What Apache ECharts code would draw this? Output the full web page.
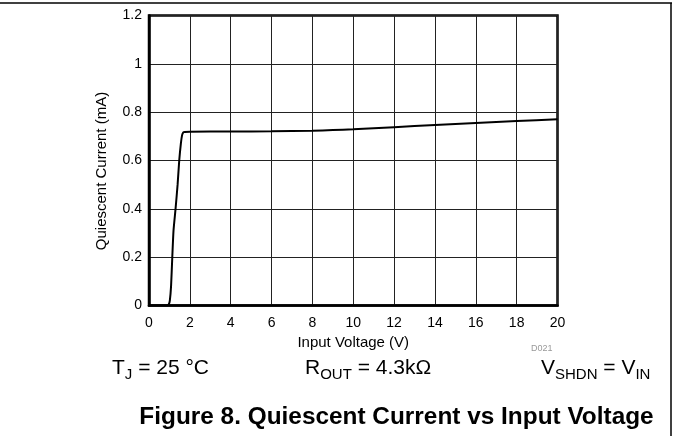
<!DOCTYPE html>
<html>
<head>
<meta charset="utf-8">
<script src="https://cdn.jsdelivr.net/npm/echarts@6/dist/echarts.min.js"></script>
<style>html,body{margin:0;padding:0;background:#fff;}#c{width:673px;height:436px;}</style>
</head>
<body>
<div id="c"></div>
<script>
// Data
const voltage = [0, 0.5, 0.9, 0.97, 1.02, 1.08, 1.14, 1.2, 1.3, 1.4, 1.48, 1.56, 1.62, 1.68, 1.75, 2, 4, 6, 8, 9, 10, 12, 14, 16, 18, 20];
const current = [0, 0, 0, 0.005, 0.02, 0.08, 0.2, 0.31, 0.4, 0.5, 0.6, 0.67, 0.705, 0.716, 0.718, 0.719, 0.72, 0.721, 0.723, 0.726, 0.729, 0.738, 0.747, 0.755, 0.763, 0.771];
const xTicks = [0, 2, 4, 6, 8, 10, 12, 14, 16, 18, 20];
const yTicks = [0, 0.2, 0.4, 0.6, 0.8, 1, 1.2];
const xTitle = 'Input Voltage (V)';
const yTitle = 'Quiescent Current (mA)';
const figTitle = 'Figure 8. Quiescent Current vs Input Voltage';

const FONT = 'Liberation Sans, Arial, sans-serif';
const chart = echarts.init(document.getElementById('c'), null, {renderer: 'canvas'});
const pts = voltage.map((v, i) => [v, current[i]]);
const richSub = {
  m: {fontSize: 21, fontFamily: FONT, fill: '#000', lineHeight: 24, verticalAlign: 'top'},
  s: {fontSize: 15, fontFamily: FONT, fill: '#000', lineHeight: 15, verticalAlign: 'bottom'}
};

chart.setOption({
  animation: false,
  backgroundColor: '#fff',
  grid: {left: 149, right: 115.5, top: 15.5, bottom: 130.5, show: true, borderColor: '#000', borderWidth: 2.5, backgroundColor: 'transparent'},
  xAxis: {
    type: 'value', min: xTicks[0], max: xTicks[xTicks.length - 1], interval: 2,
    name: xTitle, nameLocation: 'middle', nameGap: 29,
    nameTextStyle: {fontFamily: FONT, fontSize: 15, color: '#000'},
    axisLine: {show: true, lineStyle: {color: '#000', width: 2.5}},
    axisTick: {show: false},
    axisLabel: {fontFamily: FONT, fontSize: 14, color: '#000', margin: 11},
    splitLine: {show: true, lineStyle: {color: '#222', width: 1}}
  },
  yAxis: {
    type: 'value', min: yTicks[0], max: yTicks[yTicks.length - 1], interval: 0.2,
    axisLine: {show: true, lineStyle: {color: '#000', width: 2.5}},
    axisTick: {show: false},
    axisLabel: {fontFamily: FONT, fontSize: 14, color: '#000', margin: 7},
    splitLine: {show: true, lineStyle: {color: '#222', width: 1}}
  },
  series: [{
    type: 'line', data: pts, showSymbol: false, smooth: 0.2,
    lineStyle: {color: '#000', width: 2}
  }],
  graphic: [
    {type: 'line', shape: {x1: 0, y1: 3, x2: 672, y2: 3}, style: {stroke: '#000', lineWidth: 1.5}},
    {type: 'line', shape: {x1: 671, y1: 3, x2: 671, y2: 436}, style: {stroke: '#000', lineWidth: 1.5}},
    {type: 'text', x: 102, y: 171, rotation: Math.PI / 2, style: {
      text: yTitle, fontFamily: FONT, fontSize: 15, fill: '#000', align: 'center', verticalAlign: 'middle'}},
    {type: 'text', left: 531, top: 344, style: {text: 'D021', fontFamily: FONT, fontSize: 9, fill: '#999'}},
    {type: 'text', left: 112, top: 358, style: {text: '{m|T}{s|J}{m| = 25 °C}', fontFamily: FONT, rich: richSub}},
    {type: 'text', left: 305, top: 358, style: {text: '{m|R}{s|OUT}{m| = 4.3kΩ}', fontFamily: FONT, rich: richSub}},
    {type: 'text', left: 541, top: 358, style: {text: '{m|V}{s|SHDN}{m| = V}{s|IN}', fontFamily: FONT, rich: richSub}},
    {type: 'text', x: 396.5, y: 418, scaleX: 1.06, style: {
      text: figTitle, fontFamily: FONT, fontSize: 23, fontWeight: 'bold', fill: '#000', align: 'center', verticalAlign: 'middle'}}
  ]
});
</script>
</body>
</html>
